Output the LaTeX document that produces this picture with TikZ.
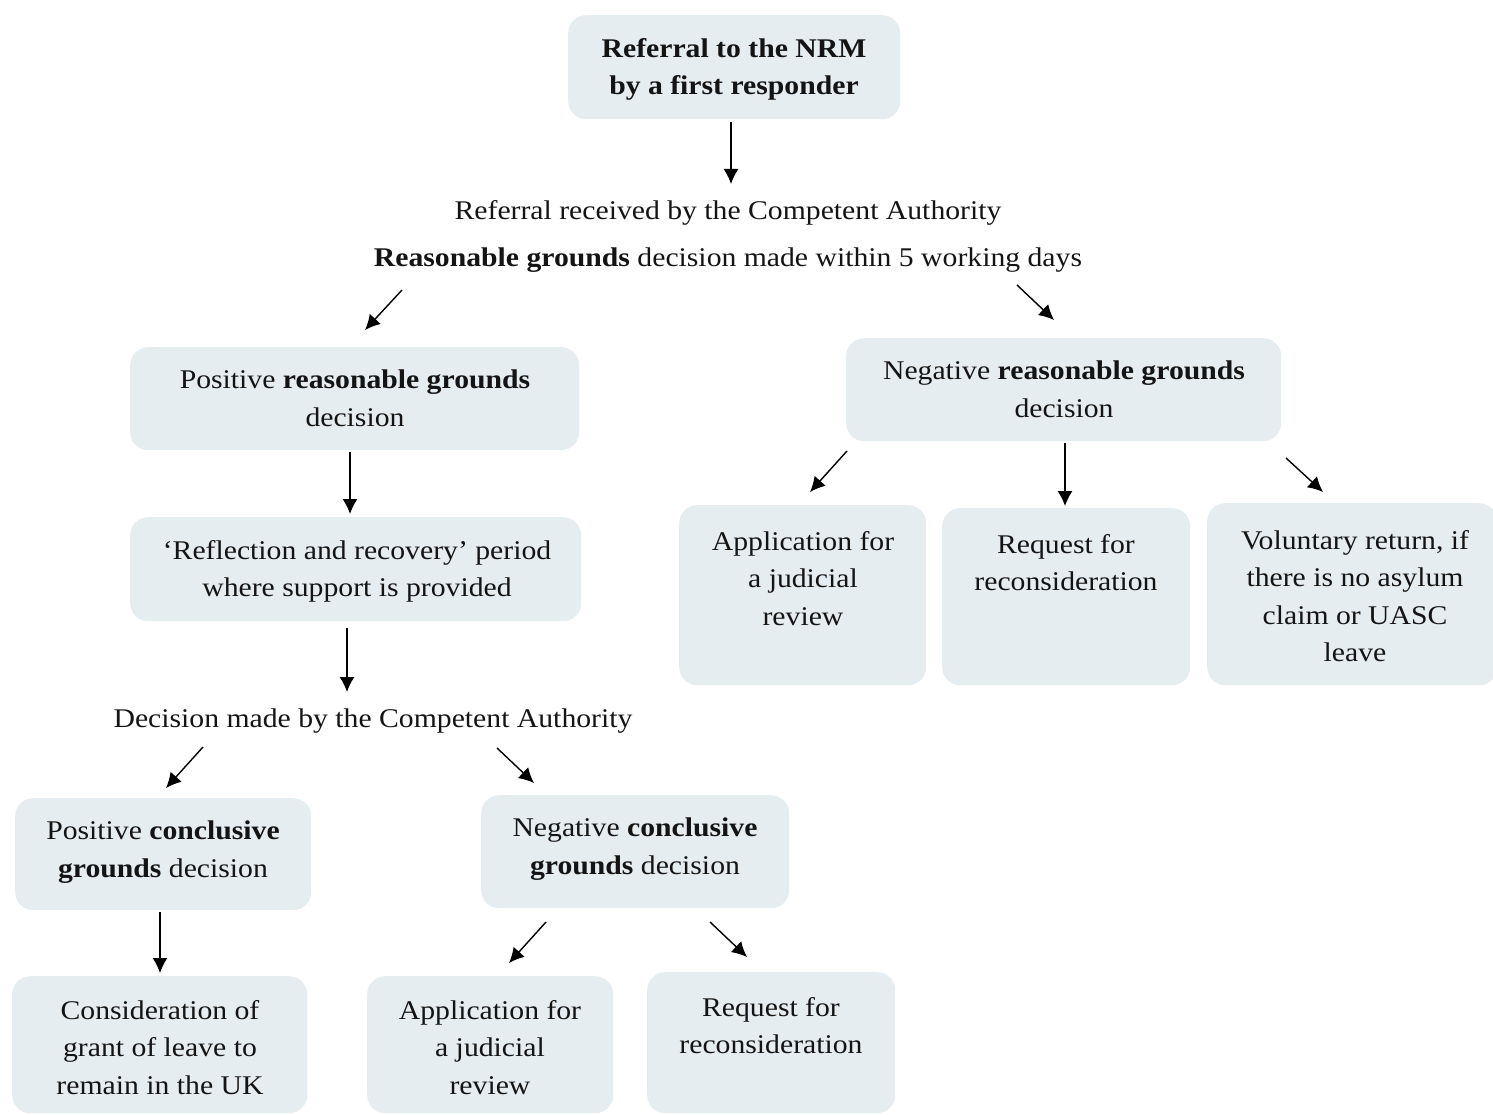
\documentclass[tikz,border=0pt]{standalone}
\usepackage{fontspec}
\setmainfont{Liberation Serif}[FakeStretch=1.1]
\usetikzlibrary{arrows.meta}
\definecolor{boxc}{RGB}{230,237,240}
\definecolor{txtc}{RGB}{20,20,20}
\begin{document}
\begin{tikzpicture}[x=1pt,y=-1pt,
  boxnode/.style={fill=boxc,draw=none,rounded corners=18pt,anchor=north west,inner sep=0pt},
  boxtext/.style={anchor=north,align=center,inner sep=0pt,text=txtc,font=\fontsize{27}{37.5}\selectfont},
  linetext/.style={anchor=base,inner sep=0pt,text=txtc,font=\fontsize{27}{37.5}\selectfont},
  arr/.style={line width=1.4pt,-{Latex[length=15pt,width=15pt]}}]
\useasboundingbox (0,0) rectangle (1493,1115);

% boxes
\node[boxnode,minimum width=332pt,minimum height=104pt] (top) at (568,15) {};
\node[boxnode,minimum width=449pt,minimum height=103pt] (prg) at (130,347) {};
\node[boxnode,minimum width=435pt,minimum height=103pt] (nrg) at (846,338) {};
\node[boxnode,minimum width=451pt,minimum height=104pt] (refl) at (130,517) {};
\node[boxnode,minimum width=296pt,minimum height=112pt] (pcg) at (15,798) {};
\node[boxnode,minimum width=308pt,minimum height=113pt] (ncg) at (481,795) {};
\node[boxnode,minimum width=295pt,minimum height=137pt] (cons) at (12,976) {};
\node[boxnode,minimum width=246pt,minimum height=137pt] (jr2) at (367,976) {};
\node[boxnode,minimum width=248pt,minimum height=141pt] (rq2) at (647,972) {};
\node[boxnode,minimum width=247pt,minimum height=180pt] (jr1) at (679,505) {};
\node[boxnode,minimum width=248pt,minimum height=177pt] (rq1) at (942,508) {};
\node[boxnode,minimum width=290pt,minimum height=182pt] (vol) at (1207,503) {};

% texts
\node[boxtext] (ttop) at (734,38) {\textbf{Referral to the NRM}\\\textbf{by a first responder}};
\node[linetext] (l1) at (728,220) {Referral received by the Competent Authority};
\node[linetext] (l2) at (728,266) {\textbf{Reasonable grounds} decision made within 5 working days};
\node[boxtext] (tprg) at (355,370) {Positive \textbf{reasonable grounds}\\decision};
\node[boxtext] (tnrg) at (1064,361) {Negative \textbf{reasonable grounds}\\decision};
\node[boxtext] (trefl) at (357,540) {‘Reflection and recovery’ period\\where support is provided};
\node[linetext] (l3) at (373,727) {Decision made by the Competent Authority};
\node[boxtext] (tpcg) at (163,821) {Positive \textbf{conclusive}\\\textbf{grounds} decision};
\node[boxtext] (tncg) at (635,818) {Negative \textbf{conclusive}\\\textbf{grounds} decision};
\node[boxtext] (tcons) at (160,1000) {Consideration of\\grant of leave to\\remain in the UK};
\node[boxtext] (tjr2) at (490,1000) {Application for\\a judicial\\review};
\node[boxtext] (trq2) at (771,997) {Request for\\reconsideration};
\node[boxtext] (tjr1) at (803,531) {Application for\\a judicial\\review};
\node[boxtext] (trq1) at (1066,534) {Request for\\reconsideration};
\node[boxtext] (tvol) at (1355,530) {Voluntary return, if\\there is no asylum\\claim or UASC\\leave};

% arrow end points
\coordinate (a1s) at (731,122);  \coordinate (a1e) at (731,184);
\coordinate (a2s) at (402,290);  \coordinate (a2e) at (365,330);
\coordinate (a3s) at (1017,285); \coordinate (a3e) at (1054,320);
\coordinate (a4s) at (350,452);  \coordinate (a4e) at (350,514);
\coordinate (a5s) at (347,628);  \coordinate (a5e) at (347,692);
\coordinate (a6s) at (203,747);  \coordinate (a6e) at (166,788);
\coordinate (a7s) at (497,748);  \coordinate (a7e) at (534,783);
\coordinate (a8s) at (160,912);  \coordinate (a8e) at (160,973);
\coordinate (a9s) at (546,922);  \coordinate (a9e) at (509,963);
\coordinate (a10s) at (710,922); \coordinate (a10e) at (747,957);
\coordinate (a11s) at (847,451); \coordinate (a11e) at (810,492);
\coordinate (a12s) at (1065,443);\coordinate (a12e) at (1065,506);
\coordinate (a13s) at (1286,458);\coordinate (a13e) at (1323,492);

\foreach \i in {1,...,13} {\draw[arr] (a\i s) -- (a\i e);}
\end{tikzpicture}
\end{document}
